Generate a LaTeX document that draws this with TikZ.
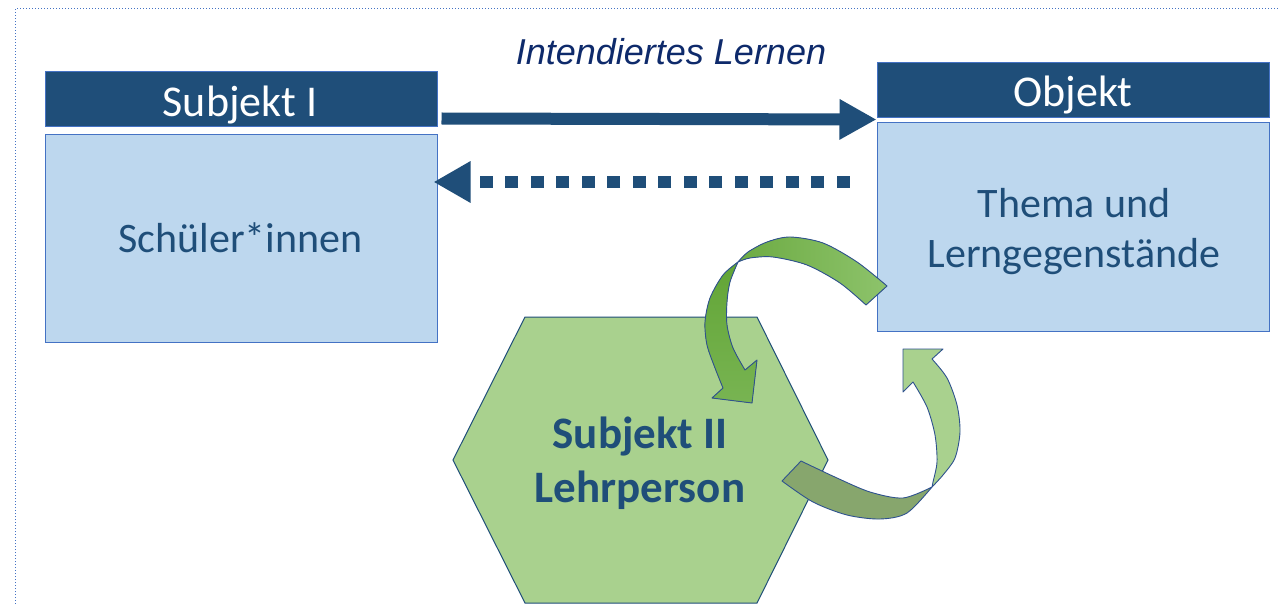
\documentclass[tikz,border=0pt]{standalone}
\usepackage{fontspec}
\setmainfont{Carlito}
\newfontfamily\titlefont{Liberation Sans}
\usetikzlibrary{arrows.meta}
\definecolor{navy}{HTML}{1F4E79}
\definecolor{boxfill}{HTML}{BDD7EE}
\definecolor{boxline}{HTML}{4472C4}
\definecolor{hexfill}{HTML}{A9D18E}
\definecolor{outl}{HTML}{2F528F}
\definecolor{greenA}{HTML}{6DAB43}
\definecolor{greenB}{HTML}{8DC36B}
\definecolor{greenC}{HTML}{62A536}
\definecolor{greenD}{HTML}{78B452}
\definecolor{olive}{HTML}{87A66D}
\definecolor{titleblue}{HTML}{0E2A6B}

\begin{document}
\begin{tikzpicture}[x=1pt,y=-1pt,
  header/.style={draw=boxline, line width=1pt, fill=navy, minimum width=392pt,
    minimum height=55pt, inner sep=0pt},
  bodybox/.style={draw=boxline, line width=1pt, fill=boxfill, minimum width=392pt,
    inner sep=0pt},
  headtext/.style={anchor=base, text=white, inner sep=0pt, font=\fontsize{44}{50}\selectfont},
  bodytext/.style={anchor=base, text=navy, inner sep=0pt, font=\fontsize{42}{50}\selectfont},
  hextext/.style={anchor=base, text=navy, inner sep=0pt, font=\fontsize{45}{50}\selectfont\bfseries},
  ribbon/.style={draw=outl, line width=0.9pt, line join=round},
  blockarrow/.style={draw=navy, line width=12pt},
]
\useasboundingbox (0,0) rectangle (1280,604);
\fill[white] (0,0) rectangle (1280,604);

% frame
\draw[boxline, dotted, line width=1pt] (15,604) -- (15,9) -- (1280,9);

% Subjekt I
\node[header] (subjhead) at (241,99.5) {};
\node[bodybox, minimum height=207pt] (subjbody) at (241,238.5) {};
\node[headtext] (subjtitle) at (240,117) {Subjekt I};
\node[bodytext] (subjtext) at (240.5,253) {Schüler*innen};

% Objekt
\node[header] (objhead) at (1073,90.5) {};
\node[bodybox, minimum height=208pt] (objbody) at (1073,227) {};
\node[headtext] (objtitle) at (1073,107) {Objekt};
\node[bodytext] (objtext1) at (1074,218) {Thema und};
\node[bodytext] (objtext2) at (1074,268) {Lerngegenstände};

% title over the arrows
\node[anchor=base, text=titleblue, inner sep=0pt, font=\titlefont\itshape\fontsize{36}{40}\selectfont]
  (intend) at (671,65) {Intendiertes Lernen};

% intended learning: Subjekt I -> Objekt
\draw[blockarrow, -{Triangle[length=37pt,width=38pt]}]
  ([xshift=4pt]subjhead.east |- objhead.south west) -- ([yshift=-1pt]objhead.south west);

% feedback: Objekt -> Subjekt I (dotted)
\draw[blockarrow, line width=12.7pt, dash pattern=on 12.7pt off 12.8pt,
      -{Triangle[length=37pt,width=39pt]}]
  ([xshift=-27pt]objbody.west |- 0,182) -- ([xshift=-4pt]subjbody.east |- 0,182);

% Subjekt II
\filldraw[fill=hexfill, draw=navy, line width=1pt]
  (525,317) -- (757,317) -- (828,460) -- (757,603) -- (525,603) -- (453,460) -- cycle;
\node[hextext] (lehr1) at (640,448) {Subjekt II};
\node[hextext] (lehr2) at (640,502) {Lehrperson};

% curved arrow from Objekt to Subjekt II: upper band
\filldraw[ribbon, left color=greenA, right color=greenB]
  (887,286) -- plot[smooth] coordinates {(887,286) (857,262) (823,243) (790,237) (767,242) (748,252) (738,262)}
  -- plot[smooth] coordinates {(738,262) (750,258) (773,257) (807,265) (840,283) (866,305)}
  -- cycle;
% descending part with head
\filldraw[ribbon, top color=greenC, bottom color=greenD]
  (738,262) -- plot[smooth] coordinates {(738,262) (723,275) (710,298) (705,322) (707,345) (715,368) (723,388)}
  -- (712,398) -- (752,403) -- (757,360)
  -- plot[smooth] coordinates {(745,370) (733,348) (727,325) (727,302) (730,282) (738,262)}
  -- cycle;

% curved arrow from Subjekt II to Objekt: lower band
\filldraw[ribbon, fill=olive]
  (801,461) -- plot[smooth] coordinates {(801,461) (837,478) (870,492) (903,498) (932,487)}
  -- plot[smooth] coordinates {(932,487) (907,513) (880,519) (847,515) (813,502) (782,481)}
  -- cycle;
% rising part with head
\filldraw[ribbon, fill=hexfill]
  (932,487) -- plot[smooth] coordinates {(932,487) (933,482) (937,462) (935,435) (927,407) (913,382)}
  -- (903,392) -- (903,349) -- (943,349)
  -- plot[smooth] coordinates {(932,359) (947,378) (957,405) (960,432) (955,458) (943,475) (932,487)}
  -- cycle;
\end{tikzpicture}
\end{document}
